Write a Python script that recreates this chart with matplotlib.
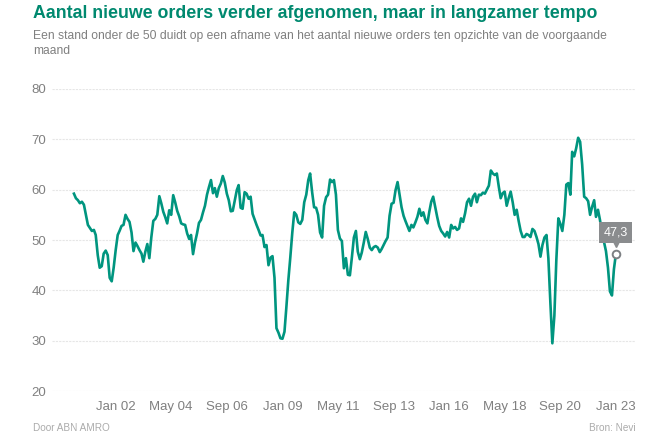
import matplotlib
matplotlib.use("Agg")
import matplotlib.pyplot as plt
from matplotlib.transforms import offset_copy
import numpy as np
import pandas as pd

# Nevi PMI, component nieuwe orders (maandelijks, vanaf april 2000)
start_month = "2000-04-01"
v2000 = [59.2, 58.3, 57.9, 57.3, 57.6, 57.0, 55.0, 53.0, 52.4]
v2001 = [51.8, 52.0, 51.0, 47.0, 44.5, 44.8, 47.3, 47.9, 47.0, 42.5, 41.8, 44.5]
v2002 = [48.0, 51.0, 51.8, 52.8, 53.0, 55.0, 54.2, 53.6, 51.5, 47.8, 49.5, 48.8]
v2003 = [48.0, 47.3, 45.7, 47.7, 49.2, 46.4, 50.5, 53.8, 54.2, 55.0, 58.7, 57.3]
v2004 = [55.6, 54.5, 53.3, 55.9, 55.0, 58.9, 57.5, 55.8, 54.7, 53.3, 53.1, 53.0]
v2005 = [51.3, 50.2, 51.0, 47.2, 49.5, 51.3, 53.4, 54.0, 55.5, 56.8, 59.0, 60.5]
v2006 = [61.9, 59.3, 60.3, 58.6, 60.3, 61.2, 62.7, 61.4, 59.2, 57.9, 55.7, 55.8]
v2007 = [57.8, 59.9, 60.9, 56.4, 56.2, 59.5, 59.2, 58.2, 58.6, 55.2, 54.1, 53.0]
v2008 = [52.0, 50.9, 51.0, 48.6, 49.0, 45.0, 46.5, 46.8, 42.5, 32.5, 31.6, 30.5]
v2009 = [30.4, 31.8, 36.5, 42.0, 46.5, 51.5, 55.5, 55.0, 53.5, 53.2, 54.0, 57.5]
v2010 = [59.0, 61.9, 63.2, 59.5, 56.5, 56.4, 55.0, 51.5, 50.5, 56.8, 58.5, 59.0]
v2011 = [62.0, 61.5, 61.9, 59.0, 52.0, 50.3, 49.8, 44.4, 46.4, 43.1, 43.0, 46.5]
v2012 = [50.5, 51.8, 47.7, 46.2, 47.5, 49.5, 51.6, 50.2, 48.5, 48.0, 48.6, 48.8]
v2013 = [48.5, 47.6, 48.2, 49.0, 49.8, 50.5, 54.8, 57.2, 57.4, 59.9, 61.5, 59.0]
v2014 = [56.5, 54.8, 53.8, 52.8, 51.8, 53.0, 52.5, 53.5, 54.6, 56.2, 54.8, 55.5]
v2015 = [54.0, 53.3, 55.5, 57.6, 58.6, 56.6, 54.6, 52.8, 51.8, 51.3, 50.7, 51.6]
v2016 = [50.5, 53.0, 52.3, 52.6, 52.0, 52.3, 54.3, 53.6, 55.3, 57.5, 58.2, 56.8]
v2017 = [58.6, 59.2, 57.5, 59.0, 58.9, 59.4, 59.2, 60.0, 60.8, 63.8, 63.2, 62.9]
v2018 = [63.2, 60.5, 58.3, 59.3, 59.6, 56.8, 58.3, 59.6, 57.5, 55.0, 56.0, 53.8]
v2019 = [51.8, 50.6, 50.6, 51.2, 51.0, 50.6, 52.2, 51.8, 50.6, 49.2, 46.7, 49.0]
v2020 = [50.5, 51.0, 46.4, 37.5, 29.5, 35.0, 46.0, 54.3, 53.2, 51.8, 55.0, 61.0]
v2021 = [61.3, 59.0, 67.5, 66.6, 68.2, 70.3, 69.5, 65.0, 58.6, 58.3, 57.7, 55.0]
v2022 = [56.6, 57.9, 54.6, 56.0, 54.0, 51.5, 49.7, 47.8, 44.5, 39.8, 39.0, 44.2]
v2023 = [47.3]

values = (v2000 + v2001 + v2002 + v2003 + v2004 + v2005 + v2006 + v2007
          + v2008 + v2009 + v2010 + v2011 + v2012 + v2013 + v2014 + v2015
          + v2016 + v2017 + v2018 + v2019 + v2020 + v2021 + v2022 + v2023)
dates = pd.date_range(start_month, periods=len(values), freq="MS")

y_ticks = [20, 30, 40, 50, 60, 70, 80]
x_ticks = pd.date_range("2002-01-01", "2023-01-01", freq="28MS")

title = "Aantal nieuwe orders verder afgenomen, maar in langzamer tempo"
subtitle = ("Een stand onder de 50 duidt op een afname van het aantal nieuwe orders ten opzichte van de voorgaande\n"
            "maand")

teal = "#00957f"
grey_text = "#808080"

plt.rcParams["font.family"] = ["Liberation Sans", "DejaVu Sans"]

fig = plt.figure(figsize=(6.67, 4.4), dpi=100)
ax = fig.add_axes([0.078, 0.111, 0.874, 0.687])

ax.plot(dates, values, color=teal, linewidth=1.9, solid_joinstyle="round")

# laatste punt met label
last_date, last_val = dates[-1], values[-1]
ax.plot(last_date, last_val, marker="o", ms=5.5, mfc="white", mec="#7d8083", mew=1.4, zorder=5)
box_grey = "#8a8c8e"
tri = offset_copy(ax.transData, fig=fig, x=0, y=7, units="points")
ax.plot(last_date, last_val, marker="v", ms=5, color=box_grey, transform=tri, zorder=5)
ax.annotate(f"{last_val:.1f}".replace(".", ","), xy=(last_date, last_val), xytext=(0, 15),
            textcoords="offset points", ha="center", va="center", color="white", fontsize=9,
            bbox=dict(boxstyle="square,pad=0.35", fc=box_grey, ec="none"), zorder=6)

ax.set_ylim(20, 80)
ax.set_yticks(y_ticks)
ax.set_xlim(pd.Timestamp("1999-05-01"), pd.Timestamp("2023-10-20"))
ax.set_xticks(x_ticks)
ax.set_xticklabels([d.strftime("%b %y") for d in x_ticks])

ax.grid(axis="y", color="#e6e6e6", linewidth=0.8, linestyle=(0, (2, 1)))
ax.set_axisbelow(True)
for s in ax.spines.values():
    s.set_visible(False)
ax.tick_params(axis="both", length=0, labelsize=9.5, labelcolor=grey_text)
ax.tick_params(axis="y", pad=4)
ax.tick_params(axis="x", pad=7)

fig.text(0.049, 0.970, title, fontsize=12.75, fontweight="bold", color="#00896f", va="center", ha="left")
fig.text(0.049, 0.932, subtitle, fontsize=8.75, color=grey_text, va="top", ha="left", linespacing=1.35)
fig.text(0.049, 0.027, "Door ABN AMRO", fontsize=7.2, color="#ababab", va="center", ha="left")
fig.text(0.953, 0.027, "Bron: Nevi", fontsize=7.2, color="#ababab", va="center", ha="right")

fig.savefig("out.png", dpi=100)
